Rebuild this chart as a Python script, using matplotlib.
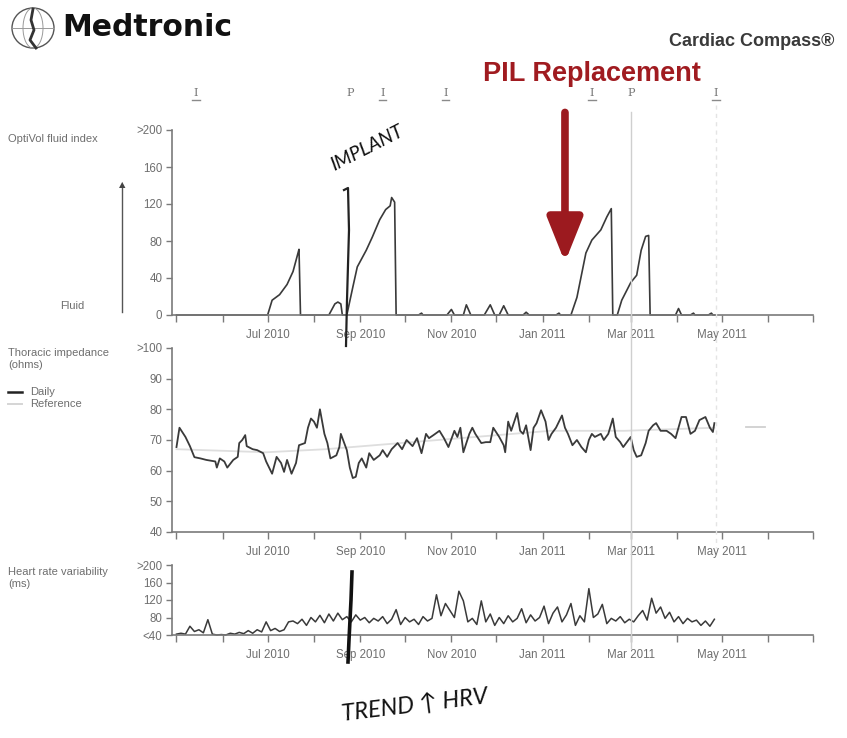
import matplotlib
matplotlib.use('Agg')
import matplotlib.pyplot as plt
import matplotlib.dates as mdates
import matplotlib.transforms as mtransforms
from matplotlib.lines import Line2D
from matplotlib.patches import Ellipse
import pandas as pd

plt.rcParams['font.family'] = ['Liberation Sans', 'DejaVu Sans']

# OptiVol fluid index, breakpoints of the daily trace
fluid_dates = [
    '2010-05-01', '2010-07-01', '2010-07-04', '2010-07-09', '2010-07-14', '2010-07-18',
    '2010-07-21', '2010-07-22', '2010-07-23', '2010-08-11', '2010-08-15', '2010-08-17',
    '2010-08-19', '2010-08-20', '2010-08-23', '2010-08-27', '2010-08-30', '2010-09-05',
    '2010-09-09', '2010-09-14', '2010-09-18', '2010-09-21', '2010-09-22', '2010-09-24',
    '2010-09-25', '2010-10-10', '2010-10-12', '2010-10-13', '2010-10-29', '2010-11-01',
    '2010-11-03', '2010-11-09', '2010-11-11', '2010-11-14', '2010-11-23', '2010-11-27',
    '2010-11-30', '2010-12-03', '2010-12-06', '2010-12-09', '2010-12-19', '2010-12-21',
    '2010-12-23', '2011-01-10', '2011-01-12', '2011-01-13', '2011-01-20', '2011-01-24',
    '2011-01-30', '2011-02-03', '2011-02-09', '2011-02-13', '2011-02-16', '2011-02-17',
    '2011-02-20', '2011-02-23', '2011-03-01', '2011-03-05', '2011-03-08', '2011-03-11',
    '2011-03-13', '2011-03-14', '2011-03-31', '2011-04-02', '2011-04-04', '2011-04-10',
    '2011-04-12', '2011-04-13', '2011-04-22', '2011-04-24', '2011-04-25', '2011-04-27',
]
fluid_index = [
    0, 0, 16, 22, 33, 47,
    65, 71, 0, 0, 12, 14,
    12, 0, 0, 30, 52, 70,
    84, 103, 114, 118, 127, 122,
    0, 0, 2, 0, 0, 6,
    0, 0, 11, 0, 0, 11,
    0, 0, 10, 0, 0, 3,
    0, 0, 2, 0, 0, 19,
    67, 81, 92, 106, 115, 0,
    0, 16, 35, 43, 70, 85,
    86, 0, 0, 7, 0, 0,
    2, 0, 0, 2, 0, 0,
]

# Thoracic impedance (ohms), days counted from 1 May 2010
imp_day = [
    0, 2, 6, 9, 12, 16, 20, 26, 27, 29, 32, 34, 38, 41, 42, 44, 46, 47, 51, 54,
    58, 60, 64, 67, 70, 72, 74, 77, 80, 82, 86, 88, 90, 92, 94, 96, 99, 101, 103, 107,
    109, 110, 114, 116, 118, 120, 122, 124, 127, 129, 132, 136, 138, 141, 144, 148, 151, 154, 158, 161,
    164, 167, 169, 172, 176, 179, 182, 186, 188, 190, 192, 196, 198, 200, 204, 207, 210, 212, 216, 219,
    220, 222, 224, 228, 230, 232, 234, 237, 239, 241, 244, 247, 249, 251, 254, 258, 260, 262, 265, 268,
    271, 274, 276, 278, 280, 284, 286, 289, 292, 294, 297, 299, 301, 304, 306, 308, 311, 314, 316, 319,
    321, 324, 328, 331, 334, 338, 341, 344, 347, 350, 354, 357, 359, 360,
]
imp_ohms = [
    67.7, 74.0, 71.0, 68.0, 64.4, 64.0, 63.5, 63.0, 61.0, 64.0, 63.0, 61.0, 63.5, 64.5, 69.0, 70.0, 71.6, 68.0, 67.0, 66.7,
    65.7, 63.0, 59.0, 64.5, 62.5, 59.6, 63.5, 59.0, 62.5, 68.3, 69.0, 74.0, 77.0, 76.0, 74.0, 80.0, 72.0, 69.0, 64.0, 65.0,
    67.7, 72.0, 66.7, 61.0, 57.6, 58.0, 62.5, 64.0, 61.0, 65.7, 63.5, 65.0, 66.7, 64.5, 67.0, 69.0, 67.0, 70.0, 68.0, 70.6,
    65.7, 72.0, 70.6, 71.6, 73.0, 70.6, 67.7, 73.0, 71.0, 74.0, 66.0, 72.0, 74.0, 72.0, 69.0, 69.3, 69.3, 74.0, 71.0, 68.3,
    66.0, 76.0, 73.0, 78.8, 73.0, 72.0, 74.8, 66.7, 74.0, 75.5, 79.7, 76.0, 70.0, 72.0, 74.0, 78.0, 74.0, 72.0, 68.3, 70.0,
    67.7, 66.0, 70.0, 72.0, 71.0, 72.0, 70.0, 72.0, 77.0, 71.0, 69.3, 67.7, 69.0, 71.0, 66.7, 64.5, 65.0, 69.0, 73.0, 74.8,
    75.5, 73.0, 73.0, 72.0, 70.6, 77.5, 77.5, 72.0, 73.0, 76.5, 77.5, 74.0, 72.6, 75.5,
]
ref_day = [0, 60, 100, 150, 200, 250, 300, 360]
ref_ohms = [67, 66, 67, 69, 71, 73, 73, 74]
ref_tail_day = [381, 394]
ref_tail_ohms = [74.3, 74.3]

# Heart rate variability (ms), one reading every third day from 1 May 2010
hrv_ms = [
    42, 44, 42, 60, 48, 52, 45, 75, 42, 40, 41, 40, 44, 42, 46, 43, 50, 44, 52, 47,
    70, 50, 55, 48, 52, 70, 72, 66, 76, 62, 80, 70, 85, 68, 88, 72, 90, 75, 82, 70,
    86, 74, 80, 68, 78, 72, 82, 66, 76, 98, 64, 80, 70, 76, 64, 82, 72, 78, 132, 84,
    112, 96, 80, 140, 118, 70, 78, 64, 118, 70, 88, 62, 80, 66, 84, 70, 78, 100, 68, 86,
    72, 80, 106, 66, 90, 104, 70, 86, 112, 62, 84, 70, 146, 80, 88, 110, 66, 78, 72, 82,
    68, 76, 70, 84, 96, 74, 124, 90, 104, 78, 92, 70, 82, 66, 78, 70, 74, 62, 72, 60,
    76,
]

event_dates = ['2010-05-14', '2010-08-25', '2010-09-16', '2010-10-28',
               '2011-02-03', '2011-03-01', '2011-04-27']
event_codes = ['I', 'P', 'I', 'I', 'I', 'P', 'I']

label_months = ['2010-07-01', '2010-09-01', '2010-11-01', '2011-01-01', '2011-03-01', '2011-05-01']

start = pd.Timestamp('2010-05-01')
x_range = (pd.Timestamp('2010-04-28'), pd.Timestamp('2011-07-01'))

W, H = 847, 738
fig = plt.figure(figsize=(W / 100, H / 100), dpi=100)
fig.patch.set_facecolor('white')

AX_COL = '#7a7a7a'
TXT_COL = '#6e6e6e'
LINE_COL = '#3a3a3a'


def fx(x):
    return x / W


def fy(y):
    return 1 - y / H


def panel(top, bottom):
    ax = fig.add_axes([fx(172), fy(bottom), fx(813) - fx(172), fy(top) - fy(bottom)])
    for s in ('top', 'right'):
        ax.spines[s].set_visible(False)
    for s in ('left', 'bottom'):
        ax.spines[s].set_color(AX_COL)
        ax.spines[s].set_linewidth(1.2)
    ax.set_xlim(*x_range)
    ax.set_xticks(pd.to_datetime(label_months))
    ax.xaxis.set_major_formatter(mdates.DateFormatter('%b %Y'))
    ax.xaxis.set_minor_locator(mdates.MonthLocator())
    ax.tick_params(axis='both', which='both', direction='out', color=AX_COL,
                   labelcolor=TXT_COL, labelsize=8.3, width=1)
    ax.tick_params(axis='x', which='major', length=5, pad=5)
    ax.tick_params(axis='x', which='minor', length=5)
    ax.tick_params(axis='y', length=4, pad=3)
    ax.patch.set_alpha(0)
    return ax


# --- top: fluid index
ax1 = panel(130, 315)
ax1.set_ylim(0, 200)
ax1.set_yticks([0, 40, 80, 120, 160, 200])
ax1.set_yticklabels(['0', '40', '80', '120', '160', '>200'])
ax1.plot(pd.to_datetime(fluid_dates), fluid_index, color=LINE_COL, lw=1.2, clip_on=False)

# --- middle: thoracic impedance
ax2 = panel(348, 532)
ax2.set_ylim(40, 100)
ax2.set_yticks([40, 50, 60, 70, 80, 90, 100])
ax2.set_yticklabels(['40', '50', '60', '70', '80', '90', '>100'])
ax2.plot(start + pd.to_timedelta(ref_day, unit='D'), ref_ohms, color='#dedede', lw=1.3)
ax2.plot(start + pd.to_timedelta(ref_tail_day, unit='D'), ref_tail_ohms, color='#d0d0d0', lw=1.3)
ax2.plot(start + pd.to_timedelta(imp_day, unit='D'), imp_ohms, color=LINE_COL, lw=1.3)

# --- bottom: heart rate variability
ax3 = panel(565, 635)
ax3.set_ylim(40, 200)
ax3.set_yticks([40, 80, 120, 160, 200])
ax3.set_yticklabels(['<40', '80', '120', '160', '>200'])
hrv_dates = pd.date_range(start, periods=len(hrv_ms), freq='3D')
ax3.plot(hrv_dates, hrv_ms, color=LINE_COL, lw=1.1, clip_on=False)

# vertical guides shared by all panels
xfig = mtransforms.blended_transform_factory(ax1.transData, fig.transFigure)
mar1 = mdates.date2num(pd.Timestamp('2011-03-01'))
fig.add_artist(Line2D([mar1, mar1], [fy(112), fy(648)], transform=xfig,
                      color='#cfcfcf', lw=1.0))
last_evt = mdates.date2num(pd.Timestamp(event_dates[-1]))
fig.add_artist(Line2D([last_evt, last_evt], [fy(105), fy(548)], transform=xfig,
                      color='#e4e4e4', lw=1.0, ls=(0, (3, 3))))

# event markers above the fluid panel
for d, code in zip(event_dates, event_codes):
    xd = mdates.date2num(pd.Timestamp(d))
    fig.text(xd, fy(93), code, transform=xfig, ha='center', va='center',
             fontsize=8, color='#777777', family=['DejaVu Serif'])
    if code == 'I':
        fig.add_artist(Line2D([xd - 2.5, xd + 2.5], [fy(100), fy(100)], transform=xfig,
                              color='#8a8a8a', lw=1))

# PIL replacement arrow
pil_date = pd.Timestamp('2011-01-16')
ax1.annotate('', xy=(pil_date, 57), xytext=(pil_date, 1.095),
             textcoords=mtransforms.blended_transform_factory(ax1.transData, ax1.transAxes),
             arrowprops=dict(arrowstyle='-|>,head_width=0.38,head_length=0.95',
                             mutation_scale=28, lw=5.5, color='#9c1a1f',
                             shrinkA=0, shrinkB=0))
fig.text(fx(592), fy(74), 'PIL Replacement', ha='center', va='center',
         fontsize=19.5, fontweight='bold', color='#a01b20')

# header
fig.text(fx(62), fy(28), 'Medtronic', ha='left', va='center', fontsize=21.5,
         fontweight='bold', color='#111111', family=['DejaVu Sans'])
fig.text(fx(834), fy(42), 'Cardiac Compass®', ha='right', va='center', fontsize=13,
         fontweight='bold', color='#3a3a3a')
fig.add_artist(Ellipse((fx(33), fy(28)), 42 / W, 40 / H, transform=fig.transFigure,
                       fill=False, ec='#555555', lw=1))
fig.add_artist(Ellipse((fx(33), fy(28)), 20 / W, 40 / H, transform=fig.transFigure,
                       fill=False, ec='#999999', lw=0.7))
fig.add_artist(Line2D([fx(12), fx(54)], [fy(28), fy(28)], transform=fig.transFigure,
                      color='#999999', lw=0.7))
fig.add_artist(Line2D([fx(33), fx(31), fx(34), fx(30), fx(36)],
                      [fy(9), fy(20), fy(30), fy(40), fy(48)], transform=fig.transFigure,
                      color='#333333', lw=2))

# left-hand panel labels
lab = dict(ha='left', va='center', fontsize=8, color=TXT_COL)
fig.text(fx(8), fy(139), 'OptiVol fluid index', **lab)
fig.text(fx(60), fy(306), 'Fluid', **lab)
fig.add_artist(Line2D([fx(122), fx(122)], [fy(312), fy(188)], transform=fig.transFigure,
                      color='#555555', lw=1))
fig.text(fx(122), fy(185), '▲', ha='center', va='center', fontsize=6, color='#444444',
         family=['DejaVu Sans'])
fig.text(fx(8), fy(353), 'Thoracic impedance', **lab)
fig.text(fx(8), fy(365), '(ohms)', **lab)
fig.add_artist(Line2D([fx(8), fx(22)], [fy(392), fy(392)], transform=fig.transFigure,
                      color='#222222', lw=1.8))
fig.text(fx(30), fy(392), 'Daily', **lab)
fig.add_artist(Line2D([fx(8), fx(22)], [fy(404), fy(404)], transform=fig.transFigure,
                      color='#d5d5d5', lw=1.4))
fig.text(fx(30), fy(404), 'Reference', **lab)
fig.text(fx(8), fy(572), 'Heart rate variability', **lab)
fig.text(fx(8), fy(584), '(ms)', **lab)

# handwritten notes
hand = dict(color='#111111', fontweight='normal', fontstyle='italic',
            family=['Lato', 'DejaVu Sans'])
fig.text(fx(367), fy(148), 'IMPLANT', ha='center', va='center', fontsize=14,
         rotation=27, **hand)
fig.add_artist(Line2D([fx(344), fx(348), fx(349), fx(347), fx(346)],
                      [fy(190), fy(188), fy(230), fy(300), fy(346)],
                      transform=fig.transFigure, color='#222222', lw=1.6))
fig.add_artist(Line2D([fx(352), fx(351), fx(349), fx(348)],
                      [fy(572), fy(600), fy(640), fy(662)],
                      transform=fig.transFigure, color='#111111', lw=2.6))
fig.text(fx(415), fy(706), 'TREND ↑ HRV', ha='center', va='center', fontsize=17,
         rotation=7, **hand)

fig.savefig('out.png', dpi=100, facecolor='white')
